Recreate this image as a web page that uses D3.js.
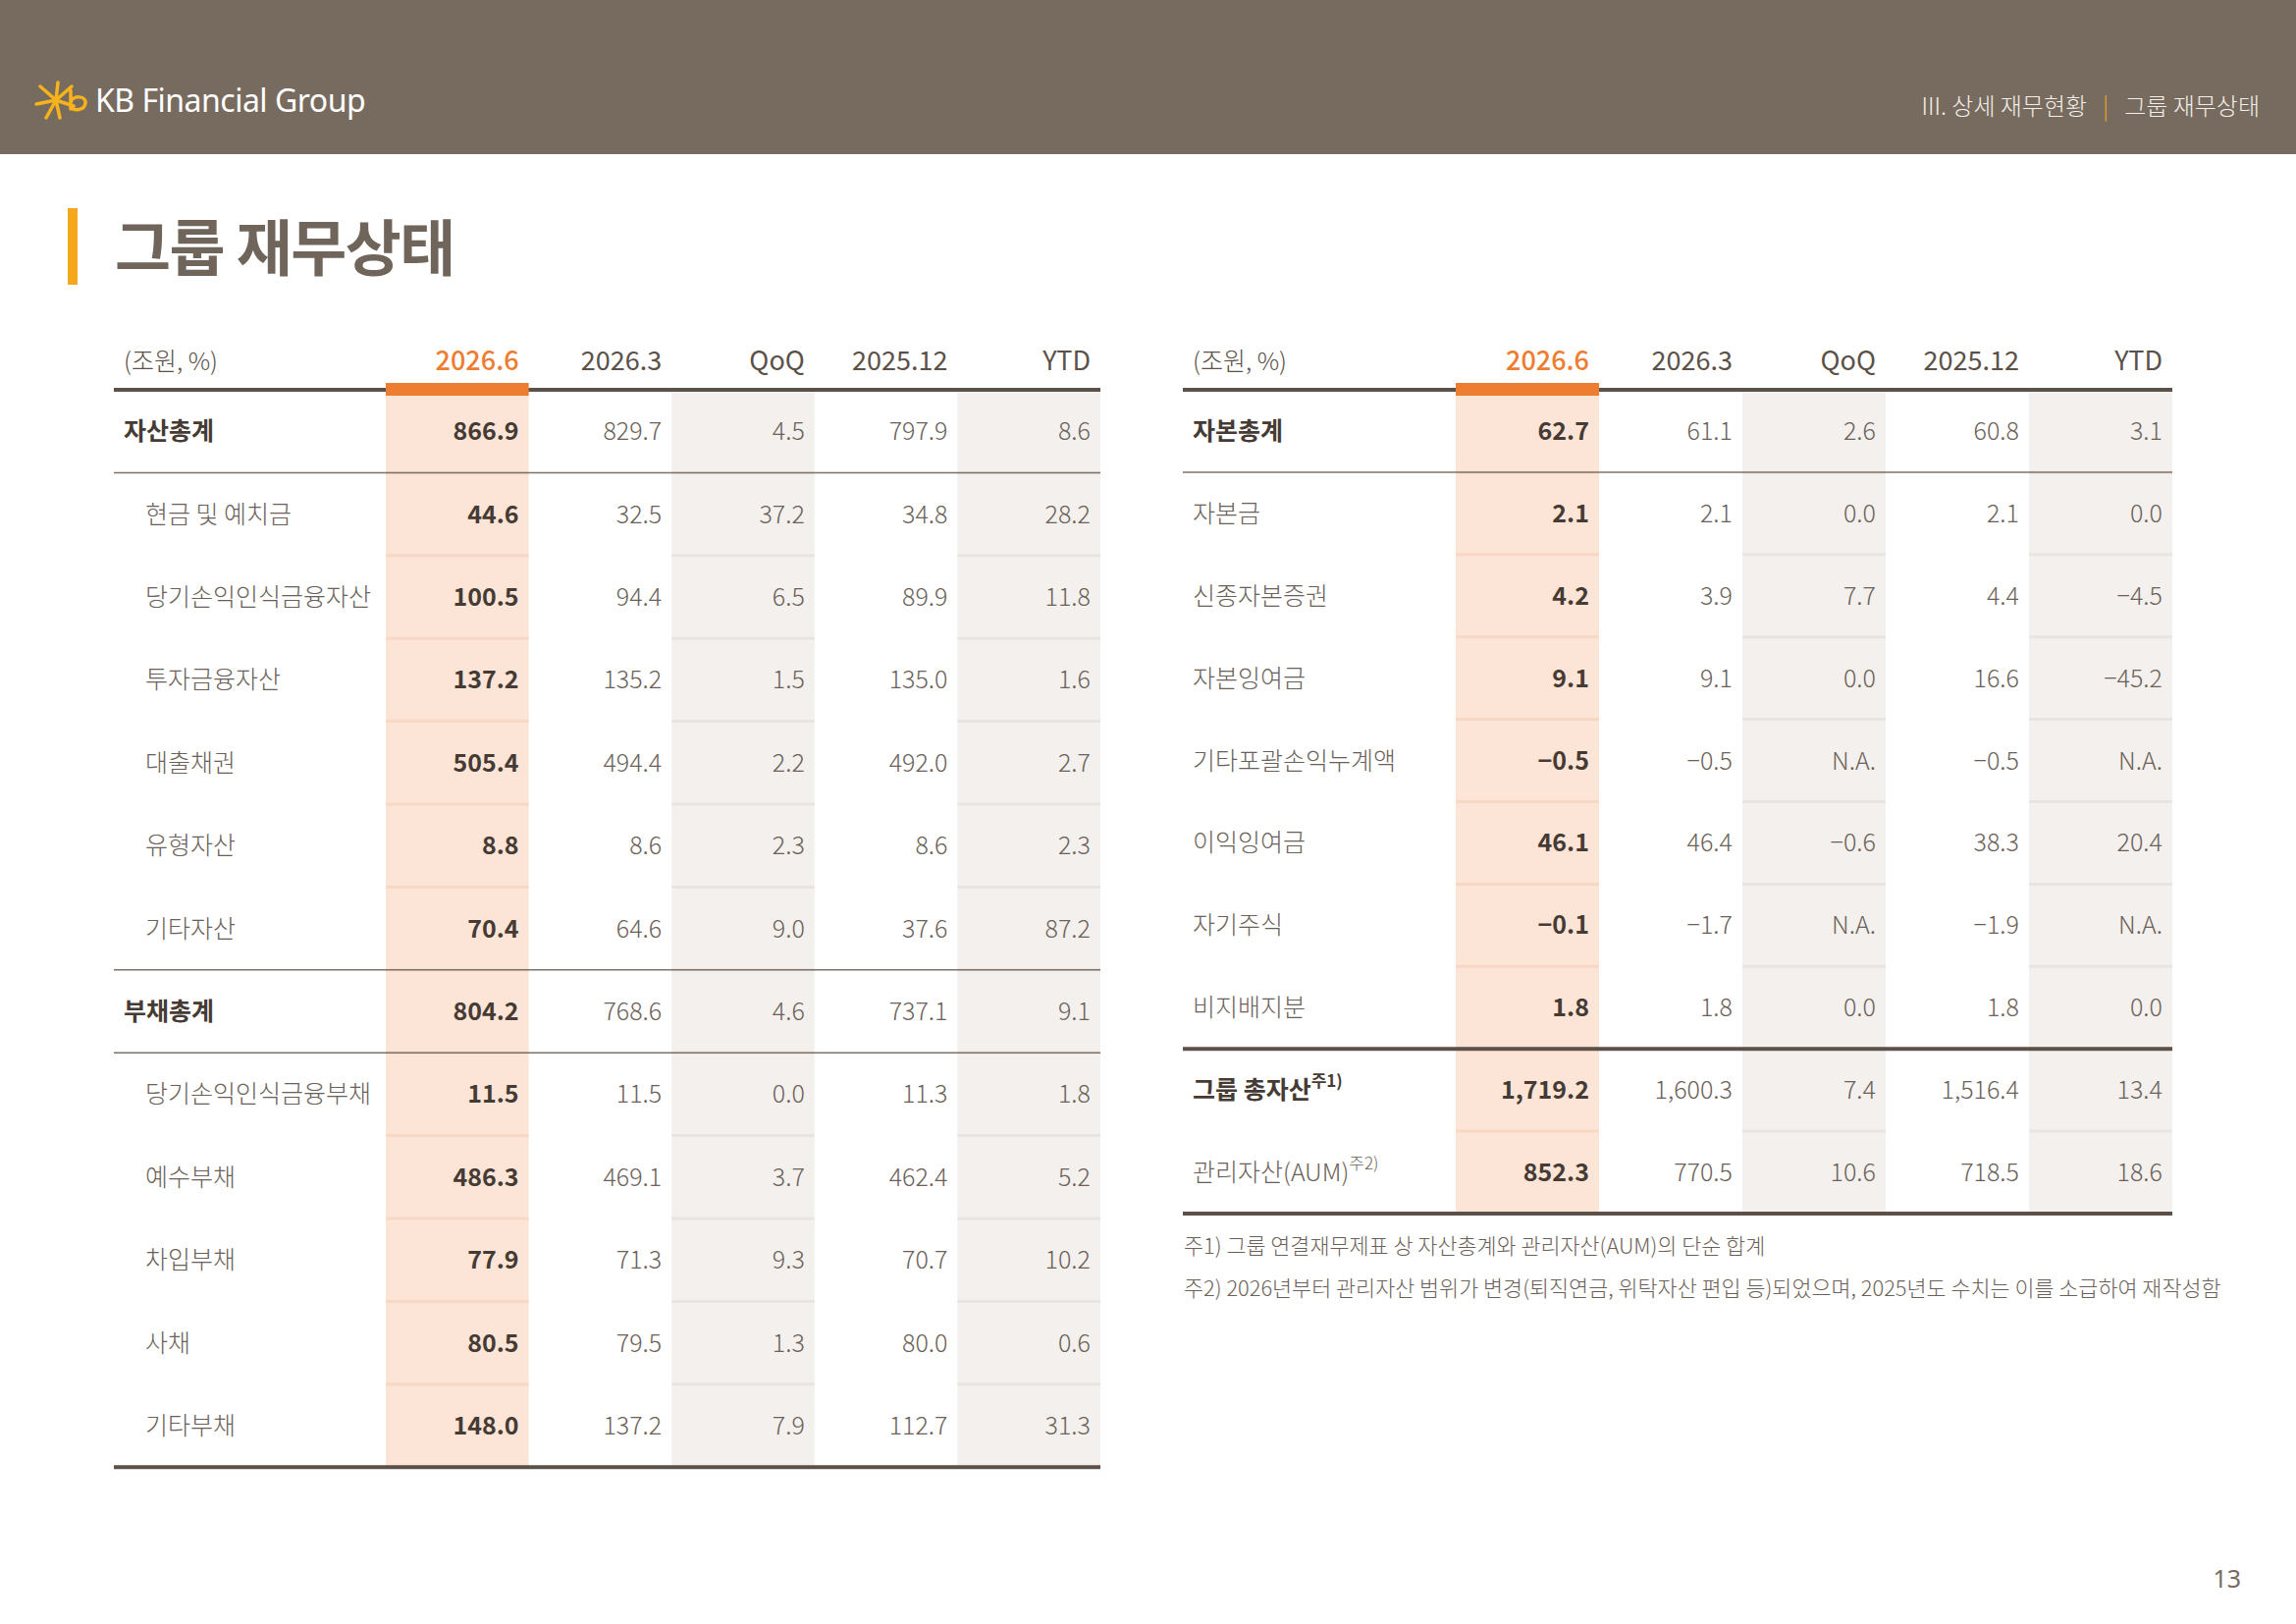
<!DOCTYPE html>
<html>
<head>
<meta charset="utf-8">
<script src="https://cdn.jsdelivr.net/npm/d3@7"></script>
<style>
  body { margin: 0; background: #fff; }
  svg { display: block; }
  text { font-family: "Noto Sans CJK KR", "Noto Sans", sans-serif; }
</style>
</head>
<body>
<svg id="page" width="2339" height="1654"></svg>
<script>
// ---- data: left table (assets / liabilities) ----
const colHeaders = ["2026.6", "2026.3", "QoQ", "2025.12", "YTD"];
const assetLabels = ["자산총계", "현금 및 예치금", "당기손익인식금융자산", "투자금융자산", "대출채권", "유형자산", "기타자산",
  "부채총계", "당기손익인식금융부채", "예수부채", "차입부채", "사채", "기타부채"];
const assetBold = [true, false, false, false, false, false, false, true, false, false, false, false, false];
const asset2606 = [866.9, 44.6, 100.5, 137.2, 505.4, 8.8, 70.4, 804.2, 11.5, 486.3, 77.9, 80.5, 148.0];
const asset2603 = [829.7, 32.5, 94.4, 135.2, 494.4, 8.6, 64.6, 768.6, 11.5, 469.1, 71.3, 79.5, 137.2];
const assetQoQ = [4.5, 37.2, 6.5, 1.5, 2.2, 2.3, 9.0, 4.6, 0.0, 3.7, 9.3, 1.3, 7.9];
const asset2512 = [797.9, 34.8, 89.9, 135.0, 492.0, 8.6, 37.6, 737.1, 11.3, 462.4, 70.7, 80.0, 112.7];
const assetYTD = [8.6, 28.2, 11.8, 1.6, 2.7, 2.3, 87.2, 9.1, 1.8, 5.2, 10.2, 0.6, 31.3];

// ---- data: right table (equity) ----
const equityLabels = ["자본총계", "자본금", "신종자본증권", "자본잉여금", "기타포괄손익누계액", "이익잉여금", "자기주식",
  "비지배지분", "그룹 총자산", "관리자산(AUM)"];
const equityNotes = [null, null, null, null, null, null, null, null, "주1)", "주2)"];
const equityBold = [true, false, false, false, false, false, false, false, true, false];
const equity2606 = [62.7, 2.1, 4.2, 9.1, -0.5, 46.1, -0.1, 1.8, 1719.2, 852.3];
const equity2603 = [61.1, 2.1, 3.9, 9.1, -0.5, 46.4, -1.7, 1.8, 1600.3, 770.5];
const equityQoQ = [2.6, 0.0, 7.7, 0.0, null, -0.6, null, 0.0, 7.4, 10.6];
const equity2512 = [60.8, 2.1, 4.4, 16.6, -0.5, 38.3, -1.9, 1.8, 1516.4, 718.5];
const equityYTD = [3.1, 0.0, -4.5, -45.2, null, 20.4, null, 0.0, 13.4, 18.6];

const footnotes = [
  "주1) 그룹 연결재무제표 상 자산총계와 관리자산(AUM)의 단순 합계",
  "주2) 2026년부터 관리자산 범위가 변경(퇴직연금, 위탁자산 편입 등)되었으며, 2025년도 수치는 이를 소급하여 재작성함"
];

const BROWN = "#776b5f";
const ORANGE = "#ed7d31";
const DARK = "#5b5148";
const fmt = d3.format(",.1f");
const fmtVal = v => v == null ? "N.A." : fmt(v);

const svg = d3.select("#page");

/***************************************************************
 * header band
 ***************************************************************/
svg.append("rect").attr("x", 0).attr("y", 0).attr("width", 2339).attr("height", 157).attr("fill", BROWN);

// KB star mark (rough)
const logo = svg.append("g").attr("stroke", "#f6b31c").attr("stroke-linecap", "round").attr("fill", "none");
[[-16, -14], [16, -14], [-20, 4], [18, 6], [-10, 18], [2, -18], [4, 18]].forEach(p => {
  logo.append("line").attr("x1", 57).attr("y1", 102).attr("x2", 57 + p[0]).attr("y2", 102 + p[1]).attr("stroke-width", 3.5);
});
logo.append("path").attr("d", "M72,92 L72,111 M72,104 C74,97 88,97 87,105 C86,113 75,113 72,109").attr("stroke-width", 3.5);

svg.append("text").attr("x", 97).attr("y", 114)
  .attr("fill", "#fff").style("font-family", "'Noto Sans', sans-serif").style("font-size", "32px")
  .style("letter-spacing", "-0.5px")
  .text("KB Financial Group");

const crumb = svg.append("text").attr("x", 2302).attr("y", 117).attr("text-anchor", "end")
  .attr("fill", "#f3eee8").style("font-size", "24px").style("font-weight", 300);
crumb.append("tspan").text("III. 상세 재무현황");
crumb.append("tspan").attr("dx", 16).attr("fill", "#f0a91e").text("|");
crumb.append("tspan").attr("dx", 16).text("그룹 재무상태");

/***************************************************************
 * page title
 ***************************************************************/
svg.append("rect").attr("x", 69).attr("y", 212).attr("width", 10).attr("height", 78).attr("fill", "#f5a81c");
svg.append("text").attr("x", 117).attr("y", 276)
  .attr("fill", "#6f655b").style("font-size", "62px").style("font-weight", 700).style("letter-spacing", "-1.5px")
  .text("그룹 재무상태");

/***************************************************************
 * table drawing
 ***************************************************************/
function drawTable(cfg) {
  const g = svg.append("g");
  const n = cfg.labels.length;
  const top = 397;
  const y = d3.scaleBand().domain(d3.range(n)).range([top, top + n * cfg.rowH]);
  const x = d3.scaleBand().domain(colHeaders).range([cfg.colStart, cfg.right]);
  const bottom = top + n * cfg.rowH;

  // column shading
  const shade = { "2026.6": "#fce5d7", "QoQ": "#f3f0ed", "YTD": "#f3f0ed" };
  const sepColor = { "2026.6": "#f7d8c5", "QoQ": "#e9e4df", "YTD": "#e9e4df" };
  Object.keys(shade).forEach(k => {
    g.append("rect").attr("x", x(k)).attr("y", top).attr("width", x.bandwidth()).attr("height", bottom - top)
      .attr("fill", shade[k]);
    g.selectAll(null).data(d3.range(1, n)).join("line")
      .attr("x1", x(k)).attr("x2", x(k) + x.bandwidth())
      .attr("y1", i => y(i)).attr("y2", i => y(i))
      .attr("stroke", sepColor[k]).attr("stroke-width", 3);
  });

  // header texts
  g.append("text").attr("x", cfg.left + 10).attr("y", 377)
    .attr("fill", DARK).style("font-size", "25px").style("font-weight", 300).text("(조원, %)");
  g.selectAll(null).data(colHeaders).join("text")
    .attr("x", d => x(d) + x.bandwidth() - 10).attr("y", 377).attr("text-anchor", "end")
    .attr("fill", d => d === "2026.6" ? ORANGE : DARK)
    .style("font-size", "27px").style("font-weight", d => d === "2026.6" ? 500 : 400)
    .text(d => d);

  // rule lines
  g.append("line").attr("x1", cfg.left).attr("x2", cfg.right).attr("y1", top).attr("y2", top)
    .attr("stroke", DARK).attr("stroke-width", 4);
  g.append("rect").attr("x", x("2026.6")).attr("y", 390).attr("width", x.bandwidth()).attr("height", 13)
    .attr("fill", ORANGE);
  cfg.thin.forEach(i => {
    g.append("line").attr("x1", cfg.left).attr("x2", cfg.right).attr("y1", y(i)).attr("y2", y(i))
      .attr("stroke", "#7d736a").attr("stroke-width", 1.5);
  });
  cfg.thick.concat([n]).forEach(i => {
    const yy = i === n ? bottom : y(i);
    g.append("line").attr("x1", cfg.left).attr("x2", cfg.right).attr("y1", yy).attr("y2", yy)
      .attr("stroke", DARK).attr("stroke-width", 4);
  });

  // row labels
  const rows = g.selectAll(".row").data(d3.range(n)).join("g").attr("class", "row")
    .attr("transform", i => `translate(0,${y(i) + y.bandwidth() / 2 + 9})`);

  const lab = rows.append("text")
    .attr("x", i => cfg.left + (cfg.bold[i] || !cfg.indent ? 10 : 32))
    .attr("fill", i => cfg.bold[i] ? "#453b34" : "#6b6159")
    .style("font-size", "25px").style("font-weight", i => cfg.bold[i] ? 700 : 300);
  lab.append("tspan").text(i => cfg.labels[i]);
  lab.filter(i => cfg.notes && cfg.notes[i]).append("tspan")
    .attr("dy", -12).style("font-size", "17px").text(i => cfg.notes[i]);

  // values
  colHeaders.forEach((c, ci) => {
    rows.append("text")
      .attr("x", x(c) + x.bandwidth() - 10).attr("text-anchor", "end")
      .attr("fill", ci === 0 ? "#453b34" : "#6b6159")
      .style("font-size", "25px").style("font-weight", ci === 0 ? 700 : 300)
      .text(i => fmtVal(cfg.values[ci][i]));
  });
}

drawTable({
  left: 116, colStart: 393, right: 1121, rowH: 84.4, indent: true,
  labels: assetLabels, bold: assetBold,
  values: [asset2606, asset2603, assetQoQ, asset2512, assetYTD],
  thin: [1, 7, 8], thick: []
});

drawTable({
  left: 1205, colStart: 1483, right: 2213, rowH: 83.9, indent: false,
  labels: equityLabels, bold: equityBold, notes: equityNotes,
  values: [equity2606, equity2603, equityQoQ, equity2512, equityYTD],
  thin: [1], thick: [8]
});

// footnotes
svg.selectAll(".fn").data(footnotes).join("text").attr("class", "fn")
  .attr("x", 1206).attr("y", (d, i) => 1277 + i * 43)
  .attr("fill", "#6b6159").style("font-size", "21.8px").style("font-weight", 300)
  .text(d => d);

// page number
svg.append("text").attr("x", 2283).attr("y", 1617).attr("text-anchor", "end")
  .attr("fill", "#776b5f").style("font-family", "'Noto Sans', sans-serif").style("font-size", "25px")
  .text("13");
</script>
</body>
</html>
